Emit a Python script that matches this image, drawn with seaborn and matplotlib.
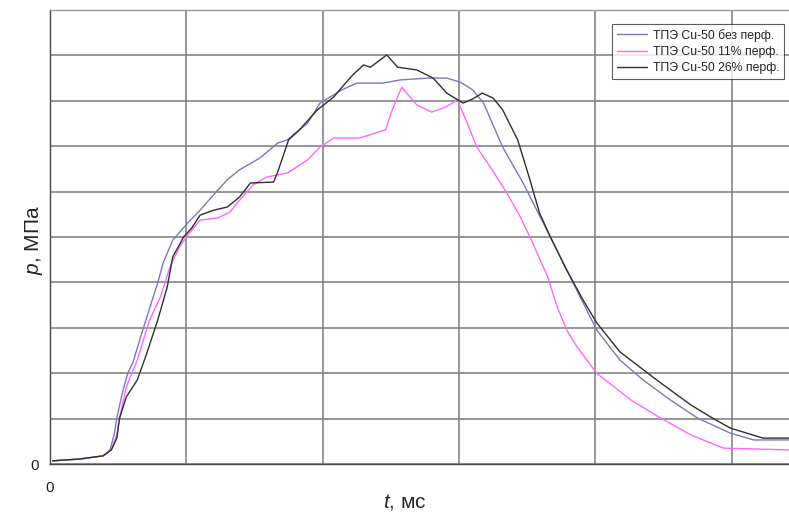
import numpy as np
import pandas as pd
import matplotlib
matplotlib.use("Agg")
import matplotlib.pyplot as plt
import seaborn as sns

sns.set_style("white")
plt.rcParams['font.family'] = ['Liberation Sans', 'DejaVu Sans']
plt.rcParams['mathtext.fontset'] = 'custom'
plt.rcParams['mathtext.it'] = 'Liberation Sans:italic'
plt.rcParams['mathtext.rm'] = 'Liberation Sans'

labels = ["ТПЭ Cu-50 без перф.", "ТПЭ Cu-50 11% перф.", "ТПЭ Cu-50 26% перф."]
colors = ["#7878c4", "#ff66ff", "#303030"]

t_blue = [0.02, 0.22, 0.39, 0.44, 0.47, 0.49, 0.53, 0.57, 0.61, 0.68, 0.79, 0.83, 0.90, 1.01, 1.10,
          1.20, 1.30, 1.39, 1.54, 1.67, 1.74, 1.89, 1.98, 2.14, 2.25, 2.44, 2.57, 2.77, 2.91, 3.01,
          3.10, 3.18, 3.32, 3.47, 3.57, 3.67, 3.79, 4.01, 4.18, 4.35, 4.55, 4.75, 4.99, 5.16, 5.42]
p_blue = [0.07, 0.11, 0.18, 0.31, 0.64, 1.01, 1.56, 2.00, 2.25, 2.95, 3.99, 4.43, 4.93, 5.31, 5.59,
          5.93, 6.26, 6.48, 6.74, 7.07, 7.14, 7.51, 7.95, 8.24, 8.39, 8.39, 8.46, 8.50, 8.50, 8.41,
          8.24, 7.95, 6.98, 6.19, 5.59, 5.00, 4.27, 2.95, 2.29, 1.85, 1.41, 1.01, 0.68, 0.53, 0.53]

t_pink = [0.02, 0.22, 0.39, 0.45, 0.49, 0.51, 0.56, 0.64, 0.73, 0.81, 0.88, 0.95, 1.01, 1.10, 1.23,
          1.32, 1.39, 1.49, 1.59, 1.74, 1.89, 1.98, 2.08, 2.27, 2.46, 2.51, 2.58, 2.69, 2.80, 2.90,
          2.99, 3.01, 3.06, 3.13, 3.23, 3.35, 3.45, 3.54, 3.65, 3.72, 3.79, 3.87, 4.01, 4.26, 4.48,
          4.70, 4.94, 5.42]
p_pink = [0.07, 0.11, 0.18, 0.31, 0.64, 1.01, 1.70, 2.29, 3.17, 3.68, 4.34, 4.78, 5.04, 5.37, 5.42,
          5.55, 5.81, 6.15, 6.32, 6.41, 6.70, 6.98, 7.18, 7.18, 7.36, 7.80, 8.30, 7.91, 7.75, 7.86,
          8.02, 7.86, 7.51, 6.98, 6.54, 5.97, 5.44, 4.87, 4.12, 3.46, 2.95, 2.56, 2.00, 1.41, 1.01,
          0.64, 0.35, 0.31]

t_black = [0.02, 0.22, 0.39, 0.45, 0.49, 0.51, 0.56, 0.64, 0.71, 0.79, 0.86, 0.90, 0.98, 1.04, 1.10,
           1.20, 1.30, 1.39, 1.47, 1.64, 1.67, 1.75, 1.83, 1.96, 2.08, 2.13, 2.22, 2.30, 2.35, 2.47,
           2.55, 2.69, 2.81, 2.91, 2.99, 3.03, 3.10, 3.17, 3.25, 3.32, 3.43, 3.52, 3.59, 3.67, 3.79,
           3.91, 4.01, 4.18, 4.45, 4.70, 4.86, 4.99, 5.23, 5.42]
p_black = [0.07, 0.11, 0.18, 0.31, 0.57, 1.01, 1.48, 1.85, 2.44, 3.17, 3.90, 4.56, 5.00, 5.20, 5.48,
           5.59, 5.66, 5.88, 6.19, 6.21, 6.43, 7.14, 7.36, 7.80, 8.08, 8.26, 8.57, 8.79, 8.74, 9.01,
           8.74, 8.68, 8.50, 8.17, 8.02, 7.95, 8.04, 8.17, 8.06, 7.80, 7.14, 6.26, 5.53, 5.00, 4.27,
           3.61, 3.11, 2.47, 1.85, 1.30, 1.01, 0.79, 0.57, 0.57]

x_ticks = [0, 1, 2, 3, 4, 5]
y_ticks = [0, 1, 2, 3, 4, 5, 6, 7, 8, 9, 10]
tick_labels_x = ["0", "", "", "", "", ""]
tick_labels_y = ["0"] + [""] * 10

df = pd.concat([
    pd.DataFrame({"t": t_blue, "p": p_blue, "series": labels[0]}),
    pd.DataFrame({"t": t_pink, "p": p_pink, "series": labels[1]}),
    pd.DataFrame({"t": t_black, "p": p_black, "series": labels[2]}),
])

fig = plt.figure(figsize=(7.89, 5.15), dpi=100)
ax = fig.add_axes([50 / 789, 51 / 515, 739 / 789, 454 / 515])

sns.lineplot(data=df, x="t", y="p", hue="series", palette=dict(zip(labels, colors)),
             estimator=None, sort=False, linewidth=1.0, ax=ax)

ax.set_xlim(0, 5.42)
ax.set_ylim(0, 10)
ax.set_xticks(x_ticks)
ax.set_xticklabels(tick_labels_x)
ax.set_yticks(y_ticks)
ax.set_yticklabels(tick_labels_y)
ax.tick_params(axis="both", direction="out", length=4, width=1, color="#555555",
               labelsize=11, pad=4)
ax.tick_params(axis="x", pad=8)
ax.grid(True, color="#7a7a7a", linewidth=1.1)
for side in ["left", "bottom"]:
    ax.spines[side].set_color("#444444")
    ax.spines[side].set_linewidth(1.0)
ax.spines["top"].set_color("#9a9a9a")
ax.spines["top"].set_linewidth(1.0)
ax.spines["right"].set_visible(False)

ax.set_xlabel("$t$, мс", fontsize=15)
ax.set_ylabel("$p$, МПа", fontsize=15)
ax.xaxis.set_label_coords(0.48, -0.062)
ax.yaxis.set_label_coords(-0.007, 0.493)

leg = ax.legend(loc="upper right", bbox_to_anchor=(0.997, 0.975), fontsize=8.8,
                frameon=True, fancybox=False, borderpad=0.4, handlelength=2.4,
                labelspacing=0.35, handletextpad=0.5, borderaxespad=0.2)
leg.get_frame().set_edgecolor("#333333")
leg.get_frame().set_linewidth(0.8)
leg.set_title(None)

fig.savefig("out.png", dpi=100)
